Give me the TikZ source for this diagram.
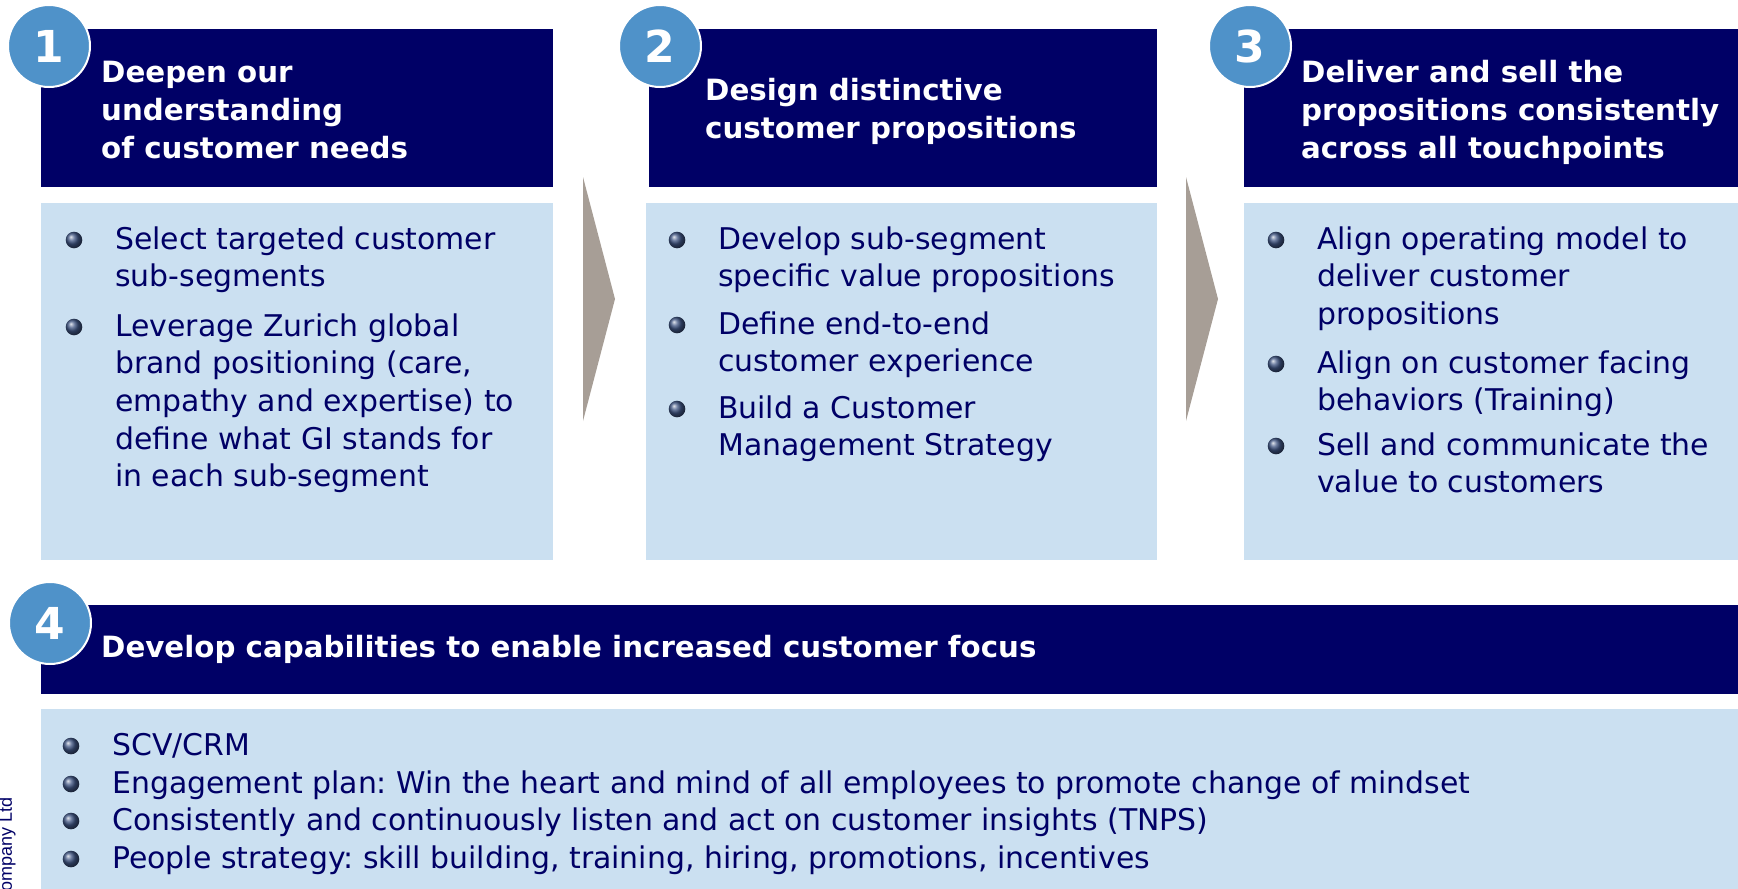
\documentclass[tikz,border=0pt]{standalone}
\usepackage{fontspec}
\setmainfont{DejaVu Sans}
\newfontfamily\notefont{Liberation Sans}
\definecolor{navy}{RGB}{0,0,102}
\definecolor{paleblue}{RGB}{203,224,241}
\definecolor{discblue}{RGB}{79,146,201}
\definecolor{chevron}{RGB}{167,158,150}
\definecolor{bulletblue}{RGB}{62,84,130}
\frenchspacing

\tikzset{
  hdrbox/.style={fill=navy, draw=none, anchor=north west, inner sep=0pt, outer sep=0pt},
  bodybox/.style={fill=paleblue, draw=none, anchor=north west, inner sep=0pt, outer sep=0pt},
  numdisc/.style={circle, fill=discblue, draw=white, line width=2pt, minimum size=82pt,
    inner sep=0pt, text=white, font=\bfseries\fontsize{44}{44}\selectfont},
  headtext/.style={anchor=base west, inner sep=0pt, text=white,
    font=\bfseries\fontsize{29.3}{38}\selectfont},
  bodytext/.style={anchor=base west, inner sep=0pt, text=navy,
    font=\fontsize{29.9}{37.7}\selectfont},
  chevshape/.style={fill=chevron, draw=none},
  ball/.style={ball color=bulletblue}
}

% lines stacked from the baseline of the first one
\newcommand{\linestack}[1]{\begin{tabular}[t]{@{}l@{}}#1\end{tabular}}

% one bullet item: name, text x, first baseline y, text
\newcommand{\bulletitem}[4]{%
  \shade[ball] (#2-41,#3-9) circle (8.3);
  \node[bodytext] (#1) at (#2,#3) {\linestack{#4}};
}

\begin{document}
\begin{tikzpicture}[x=1pt,y=-1pt]
\useasboundingbox (0,0) rectangle (1738,889);

% header bars
\node[hdrbox, minimum width=512pt, minimum height=158pt] (h1) at (41,29) {};
\node[hdrbox, minimum width=508pt, minimum height=158pt] (h2) at (649,29) {};
\node[hdrbox, minimum width=494pt, minimum height=158pt] (h3) at (1244,29) {};
\node[hdrbox, minimum width=1697pt, minimum height=89pt] (h4) at (41,605) {};

% content panels
\node[bodybox, minimum width=512pt, minimum height=357pt] (b1) at (41,203) {};
\node[bodybox, minimum width=511pt, minimum height=357pt] (b2) at (646,203) {};
\node[bodybox, minimum width=494pt, minimum height=357pt] (b3) at (1244,203) {};
\node[bodybox, minimum width=1697pt, minimum height=180pt] (b4) at (41,709) {};

% chevrons between the stages
\fill[chevshape] (583,177) -- (615,299) -- (583,421) -- cycle;
\fill[chevshape] (1186,177) -- (1218,299) -- (1186,421) -- cycle;

% numbered discs
\node[numdisc] (n1) at (49,46) {1};
\node[numdisc] (n2) at (660,46) {2};
\node[numdisc] (n3) at (1250,46) {3};
\node[numdisc] (n4) at (50,623) {4};

% stage titles
\node[headtext] (t1) at (101,82) {\linestack{Deepen our\\understanding\\of customer needs}};
\node[headtext] (t2) at (705,100) {\linestack{Design distinctive\\customer propositions}};
\node[headtext] (t3) at (1301,82) {\linestack{Deliver and sell the\\propositions consistently\\across all touchpoints}};
\node[headtext] (t4) at (101,657) {Develop capabilities to enable increased customer focus};

% stage 1 items
\bulletitem{i11}{115}{249}{Select targeted customer\\sub-segments}
\bulletitem{i12}{115}{336}{Leverage Zurich global\\brand positioning (care,\\empathy and expertise) to\\define what GI stands for\\in each sub-segment}

% stage 2 items
\bulletitem{i21}{718}{249}{Develop sub-segment\\specific value propositions}
\bulletitem{i22}{718}{334}{Define end-to-end\\customer experience}
\bulletitem{i23}{718}{418}{Build a Customer\\Management Strategy}

% stage 3 items
\bulletitem{i31}{1317}{249}{Align operating model to\\deliver customer\\propositions}
\bulletitem{i32}{1317}{373}{Align on customer facing\\behaviors (Training)}
\bulletitem{i33}{1317}{455}{Sell and communicate the\\value to customers}

% capability items
\bulletitem{i41}{112}{755}{SCV/CRM}
\bulletitem{i42}{112}{793}{Engagement plan: Win the heart and mind of all employees to promote change of mindset}
\bulletitem{i43}{112}{830}{Consistently and continuously listen and act on customer insights (TNPS)}
\bulletitem{i44}{112}{868}{People strategy: skill building, training, hiring, promotions, incentives}

% side note, running off the lower edge
\node[rotate=90, anchor=base east, inner sep=0pt, text=navy,
  font=\notefont\fontsize{18}{18}\selectfont] (note) at (12,797) {Company Ltd};
\end{tikzpicture}
\end{document}
